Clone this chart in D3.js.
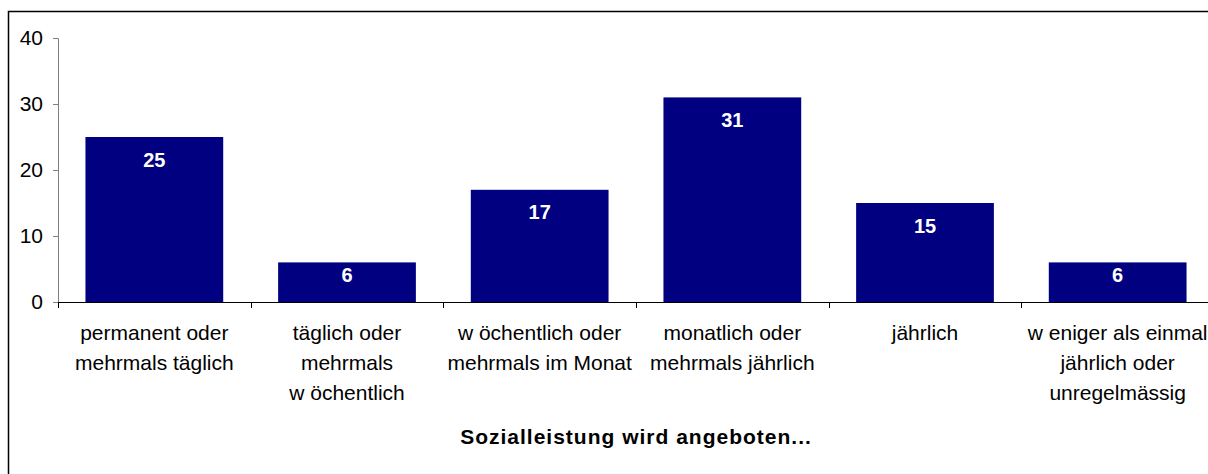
<!DOCTYPE html>
<html>
<head>
<meta charset="utf-8">
<script src="https://cdn.jsdelivr.net/npm/d3@7"></script>
<style>
  body { margin: 0; background: #fff; }
  svg { display: block; font-family: Arial, "Liberation Sans", sans-serif; }
</style>
</head>
<body>
<div id="vis"></div>
<script>
// data
const categories = [
  ["permanent oder", "mehrmals täglich"],
  ["täglich oder", "mehrmals", "w öchentlich"],
  ["w öchentlich oder", "mehrmals im Monat"],
  ["monatlich oder", "mehrmals jährlich"],
  ["jährlich"],
  ["w eniger als einmal", "jährlich oder", "unregelmässig"]
];
const values = [25, 6, 17, 31, 15, 6];
const yTicks = [0, 10, 20, 30, 40];
const xTitle = "Sozialleistung wird angeboten...";

function createVis() {
  const width = 1208;
  const height = 474;
  const left = 58, right = 1214, top = 38, bottom = 302;

  const svg = d3.select("#vis")
    .append("svg")
    .attr("width", width)
    .attr("height", height)
    .attr("viewBox", [0, 0, width, height]);

  // chart area frame (runs off the right and bottom edge)
  svg.append("rect")
    .attr("x", 8.5)
    .attr("y", 11.5)
    .attr("width", 1300)
    .attr("height", 600)
    .attr("fill", "none")
    .attr("stroke", "#000")
    .attr("stroke-width", 1.5);

  const keys = categories.map((d, i) => i);
  const x = d3.scaleBand()
    .domain(keys)
    .range([left, right])
    .paddingInner(0.285)
    .paddingOuter(0.1425);

  const y = d3.scaleLinear()
    .domain([0, 40])
    .range([bottom, top]);

  // y axis
  const yAxis = svg.append("g")
    .attr("transform", `translate(${left},0)`)
    .call(d3.axisLeft(y).tickValues(yTicks).tickSize(5).tickPadding(10));
  yAxis.selectAll("path, line").attr("stroke", "#808080");
  yAxis.select(".domain").attr("d", `M-5,${y(40) + 0.5}H0.5V${bottom}`);
  yAxis.selectAll("text")
    .attr("font-size", 21)
    .attr("font-family", "Arial, 'Liberation Sans', sans-serif")
    .attr("fill", "#000");

  // bars
  svg.append("g")
    .selectAll("rect")
    .data(values)
    .join("rect")
    .attr("x", (d, i) => x(i))
    .attr("y", d => y(d))
    .attr("width", x.bandwidth())
    .attr("height", d => y(0) - y(d))
    .attr("fill", "#000080");

  // value labels, inside the top of each bar
  svg.append("g")
    .selectAll("text")
    .data(values)
    .join("text")
    .attr("x", (d, i) => x(i) + x.bandwidth() / 2)
    .attr("y", d => y(d) + Math.min(22.5, (y(0) - y(d)) / 3.1) + 7)
    .attr("text-anchor", "middle")
    .attr("font-size", 20)
    .attr("font-weight", "bold")
    .attr("fill", "#fff")
    .text(d => d);

  // x axis line and ticks between categories
  const step = x.step();
  svg.append("line")
    .attr("x1", left)
    .attr("x2", right)
    .attr("y1", bottom + 0.5)
    .attr("y2", bottom + 0.5)
    .attr("stroke", "#000");
  svg.append("g")
    .selectAll("line")
    .data(d3.range(categories.length + 1))
    .join("line")
    .attr("x1", i => Math.round(left + i * step) + 0.5)
    .attr("x2", i => Math.round(left + i * step) + 0.5)
    .attr("y1", bottom)
    .attr("y2", bottom + 6)
    .attr("stroke", "#000");

  // category labels
  svg.append("g")
    .selectAll("text")
    .data(categories)
    .join("text")
    .attr("text-anchor", "middle")
    .attr("font-size", 21)
    .attr("fill", "#000")
    .each(function(lines, i) {
      d3.select(this).selectAll("tspan")
        .data(lines)
        .join("tspan")
        .attr("x", x(i) + x.bandwidth() / 2)
        .attr("y", (d, j) => 340 + j * 30)
        .text(d => d);
    });

  // axis title
  svg.append("text")
    .attr("x", 636)
    .attr("y", 444)
    .attr("text-anchor", "middle")
    .attr("font-size", 21)
    .attr("font-weight", "bold")
    .attr("letter-spacing", 1)
    .attr("fill", "#000")
    .text(xTitle);
}

window.addEventListener("load", createVis);
</script>
</body>
</html>
